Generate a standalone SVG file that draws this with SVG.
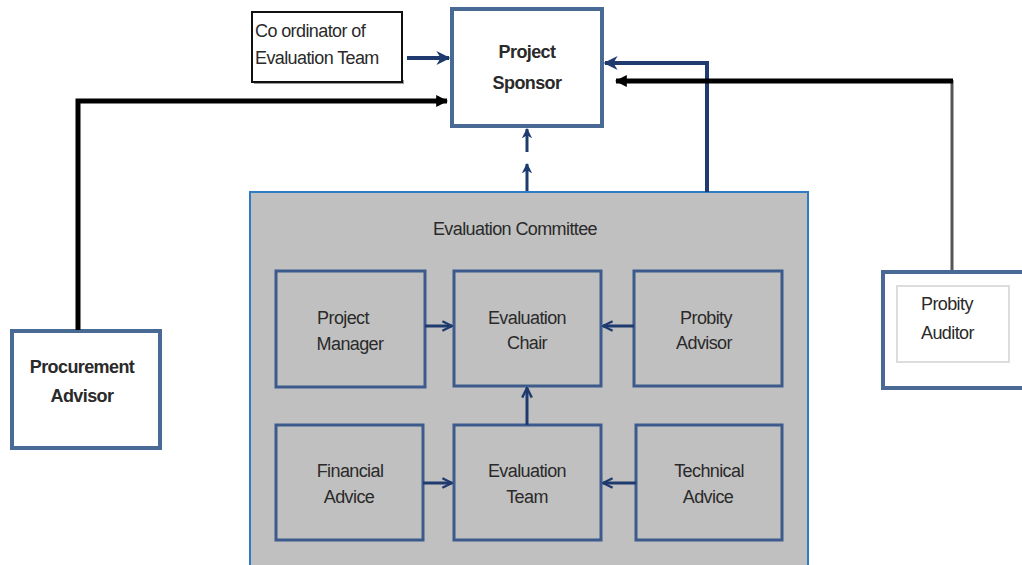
<svg xmlns="http://www.w3.org/2000/svg" width="1022" height="565" viewBox="0 0 1022 565">
<style>
  text { font-family: "Liberation Sans", Arial, sans-serif; font-size: 18px; fill: #2a2a2a; letter-spacing: -0.6px; }
  .c { text-anchor: middle; }
  .inner { fill: #c0c0c0; stroke: #3d5a8c; stroke-width: 3; }
  .outer { fill: #ffffff; stroke: #4a6a96; stroke-width: 4; }
  .nav { fill: none; stroke: #1f3a6e; stroke-width: 3; }
  .navthick { fill: none; stroke: #1f3a6e; stroke-width: 4; }
  .blk { fill: none; stroke: #000000; stroke-width: 5; }
</style>
<defs>
  <marker id="open" viewBox="0 0 10 10" refX="9" refY="5" markerWidth="4" markerHeight="4" orient="auto" markerUnits="strokeWidth">
    <path d="M1,1 L9,5 L1,9" fill="none" stroke="#1f3a6e" stroke-width="2"/>
  </marker>
  <marker id="navarrow" viewBox="0 0 10 10" refX="9" refY="5" markerWidth="3.5" markerHeight="3.5" orient="auto" markerUnits="strokeWidth">
    <path d="M0,0 L10,5 L0,10 L3,5 Z" fill="#1f3a6e"/>
  </marker>
  <marker id="blkarrow" viewBox="0 0 10 10" refX="9" refY="5" markerWidth="2.4" markerHeight="2.4" orient="auto" markerUnits="strokeWidth">
    <path d="M0,0 L10,5 L0,10 Z" fill="#000"/>
  </marker>
</defs>

<g id="evaluation-committee">
  <rect x="250" y="192" width="558" height="380" fill="#c0c0c0" stroke="#2f7cc4" stroke-width="2"/>
  <text class="c" x="515" y="235" font-size="17">Evaluation Committee</text>
</g>

<g id="coordinator">
  <rect x="254" y="80" width="150" height="4" fill="#9a9a9a"/>
  <rect x="252" y="12" width="150" height="70" fill="#ffffff" stroke="#111" stroke-width="2"/>
  <text x="255" y="37">Co ordinator of</text>
  <text x="255" y="64">Evaluation Team</text>
</g>

<g id="project-sponsor">
  <rect x="452" y="9" width="150" height="117" class="outer"/>
  <text class="c" x="527" y="58" font-size="17" font-weight="bold" fill="#555">Project</text>
  <text class="c" x="527" y="89" font-size="17" font-weight="bold" fill="#555">Sponsor</text>
</g>

<g id="procurement-advisor">
  <rect x="12" y="331" width="148" height="117" class="outer"/>
  <text class="c" x="82" y="373" font-size="17" font-weight="bold" fill="#555">Procurement</text>
  <text class="c" x="82" y="402" font-size="17" font-weight="bold" fill="#555">Advisor</text>
</g>

<g id="probity-auditor">
  <rect x="883" y="272" width="145" height="116" class="outer"/>
  <rect x="897" y="286" width="112" height="76" fill="#ffffff" stroke="#dddddd" stroke-width="2"/>
  <text x="921" y="310">Probity</text>
  <text x="921" y="339">Auditor</text>
</g>

<g id="project-manager">
  <rect x="276" y="271" width="149" height="116" class="inner"/>
  <text class="c" x="343" y="324">Project</text>
  <text class="c" x="350" y="350">Manager</text>
</g>
<g id="evaluation-chair">
  <rect x="454" y="271" width="147" height="115" class="inner"/>
  <text class="c" x="527" y="324">Evaluation</text>
  <text class="c" x="527" y="349">Chair</text>
</g>
<g id="probity-advisor">
  <rect x="634" y="271" width="148" height="115" class="inner"/>
  <text class="c" x="706" y="324">Probity</text>
  <text class="c" x="704" y="349">Advisor</text>
</g>
<g id="financial-advice">
  <rect x="276" y="425" width="147" height="115" class="inner"/>
  <text class="c" x="350" y="477">Financial</text>
  <text class="c" x="349" y="503">Advice</text>
</g>
<g id="evaluation-team">
  <rect x="454" y="425" width="147" height="115" class="inner"/>
  <text class="c" x="527" y="477">Evaluation</text>
  <text class="c" x="527" y="503">Team</text>
</g>
<g id="technical-advice">
  <rect x="636" y="425" width="146" height="115" class="inner"/>
  <text class="c" x="709" y="477">Technical</text>
  <text class="c" x="708" y="503">Advice</text>
</g>

<g id="connectors">
  <line x1="425" y1="326" x2="452" y2="326" class="nav" marker-end="url(#open)"/>
  <line x1="634" y1="326" x2="603" y2="326" class="nav" marker-end="url(#open)"/>
  <line x1="527" y1="425" x2="527" y2="388" class="nav" marker-end="url(#open)"/>
  <line x1="423" y1="483" x2="452" y2="483" class="nav" marker-end="url(#open)"/>
  <line x1="636" y1="483" x2="603" y2="483" class="nav" marker-end="url(#open)"/>
  <line x1="407" y1="58" x2="449" y2="58" class="navthick" stroke-width="5" marker-end="url(#navarrow)"/>
  <line x1="527" y1="191" x2="527" y2="164" class="nav" marker-end="url(#navarrow)"/>
  <line x1="527" y1="152" x2="527" y2="129" class="nav" marker-end="url(#navarrow)"/>
  <polyline points="707,192 707,63 605,63" class="navthick" marker-end="url(#navarrow)"/>
  <polyline points="78,330 78,101 447,101" class="blk" marker-end="url(#blkarrow)"/>
  <line x1="952" y1="270" x2="952" y2="80" stroke="#555" stroke-width="3"/>
  <line x1="953" y1="81" x2="616" y2="81" class="blk" marker-end="url(#blkarrow)"/>
</g>
</svg>
